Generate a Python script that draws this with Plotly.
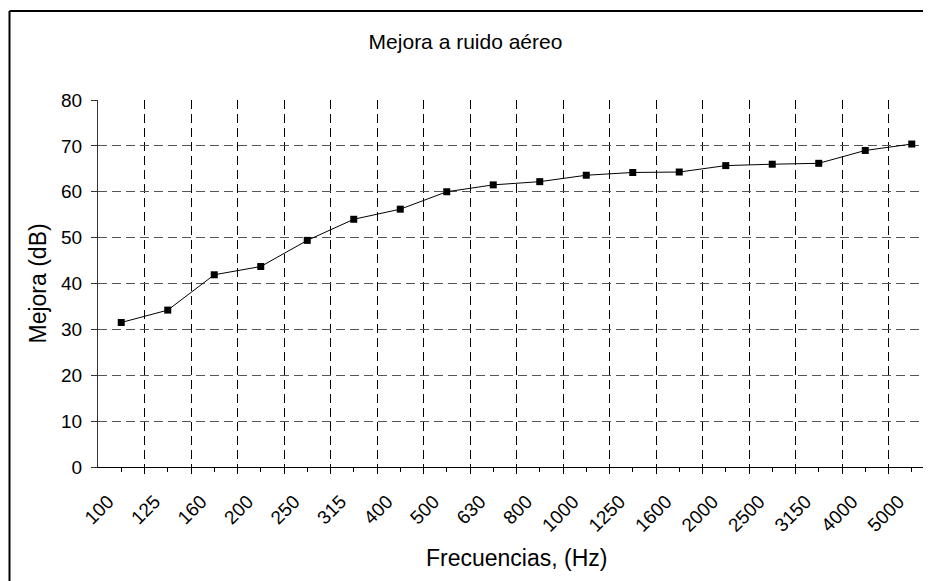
import plotly.graph_objects as go

# ---- data ----
frequencies = ["100", "125", "160", "200", "250", "315", "400", "500", "630", "800",
               "1000", "1250", "1600", "2000", "2500", "3150", "4000", "5000"]
mejora_db = [31.5, 34.2, 41.9, 43.7, 49.4, 54.0, 56.2, 60.0, 61.5, 62.2,
             63.6, 64.2, 64.3, 65.7, 66.0, 66.2, 69.0, 70.4]
y_ticks = [0, 10, 20, 30, 40, 50, 60, 70, 80]

# ---- layout constants (page pixels; the html body has an 8px margin) ----
OFF = 8
WIN_W, WIN_H = 931, 581
W, H = WIN_W - OFF, WIN_H - OFF
PLOT_LEFT, PLOT_TOP, PLOT_BOTTOM = 98, 100, 466.7
ML = PLOT_LEFT - OFF
MT = PLOT_TOP - OFF
MB = H - (PLOT_BOTTOM - OFF)
MR = 0
CAT_W = 46.5  # pixels per category
PW = W - ML - MR
PH = PLOT_BOTTOM - PLOT_TOP

def pxx(x):
    return (x - PLOT_LEFT) / PW

def pxy(y):
    return (PLOT_BOTTOM - y) / PH

idx = list(range(len(frequencies)))
x_left = -0.5
x_right = x_left + PW / CAT_W
boundaries = [i + 0.5 for i in idx]

FONT = "Liberation Sans, Arial, sans-serif"

fig = go.Figure()
fig.add_trace(go.Scatter(
    x=idx, y=mejora_db, mode="lines+markers",
    line=dict(color="black", width=1),
    marker=dict(symbol="square", size=7, color="black"),
    showlegend=False, hoverinfo="skip", cliponaxis=False,
))

fig.update_layout(
    width=W, height=H,
    margin=dict(l=ML, r=MR, t=MT, b=MB, pad=0),
    paper_bgcolor="white", plot_bgcolor="white",
    font=dict(family=FONT, color="black"),
    title=dict(text="Mejora a ruido aéreo", x=0.5 - (OFF / 2) / W, xref="container",
               y=1 - (42 - OFF) / H, yanchor="middle", xanchor="center",
               font=dict(size=21, family=FONT, color="black")),
    xaxis=dict(
        range=[x_left, x_right], tickmode="array", tickvals=idx, ticktext=frequencies,
        tickangle=-45, ticks="outside", ticklen=4, tickcolor="black", tickwidth=1,
        tickfont=dict(size=19, family=FONT, color="black"),
        showgrid=False, zeroline=False,
        showline=True, linecolor="black", linewidth=1,
        ticklabelstandoff=11, ticklabelshift=-13,
        minor=dict(tickmode="array", tickvals=boundaries, ticks="outside", ticklen=6,
                   tickcolor="black", tickwidth=1, showgrid=True, gridcolor="black",
                   gridwidth=1, griddash="9px,5px"),
        fixedrange=True,
    ),
    yaxis=dict(
        range=[0, 80], tickmode="array", tickvals=y_ticks,
        ticks="outside", ticklen=6, tickcolor="#333333", tickwidth=1,
        tickfont=dict(size=19, family=FONT, color="black"),
        showgrid=True, gridcolor="#555555", gridwidth=1, griddash="9px,5px",
        zeroline=False, showline=True, linecolor="#333333", linewidth=1,
        ticklabelstandoff=5,
        fixedrange=True,
    ),
)

# axis titles
fig.add_annotation(text="Frecuencias, (Hz)", xref="paper", yref="paper",
                   x=pxx(517), y=pxy(558), showarrow=False,
                   xanchor="center", yanchor="middle",
                   font=dict(size=23, family=FONT, color="black"))
fig.add_annotation(text="Mejora (dB)", xref="paper", yref="paper",
                   x=pxx(37), y=0.5, showarrow=False, textangle=-90,
                   xanchor="center", yanchor="middle",
                   font=dict(size=23, family=FONT, color="black"))

# outer chart border (clipped at right and bottom)
BORDER_X, BORDER_Y = 9.5, 11
fig.add_shape(type="line", xref="paper", yref="paper",
              x0=pxx(BORDER_X), x1=pxx(BORDER_X), y0=pxy(BORDER_Y), y1=pxy(WIN_H + 20),
              line=dict(color="black", width=2))
fig.add_shape(type="line", xref="paper", yref="paper",
              x0=pxx(BORDER_X), x1=pxx(WIN_W + 20), y0=pxy(BORDER_Y), y1=pxy(BORDER_Y),
              line=dict(color="black", width=2))

fig.write_html("out.html")
